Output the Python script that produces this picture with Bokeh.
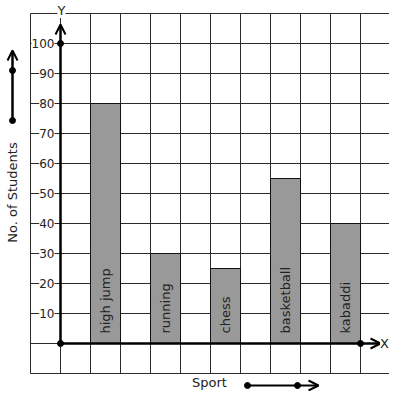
import math
from bokeh.plotting import figure, ColumnDataSource
from bokeh.models import Arrow, OpenHead, Label
from bokeh.core.properties import value
from bokeh.embed import file_html
from bokeh.resources import INLINE

# ---- data ----
sports = ["high jump", "running", "chess", "basketball", "kabaddi"]
students = [80, 30, 25, 55, 40]
bar_pos = [1.5, 3.5, 5.5, 7.5, 9.5]          # bar centres in grid-cell units
y_ticks = [10, 20, 30, 40, 50, 60, 70, 80, 90, 100]
y_tick_labels = ["10", "20", "30", "40", "50", "60", "70", "80", "90", "100"]
x_title = "Sport"
y_title = "No. of Students"

# ---- layout (pixel geometry of the picture) ----
W, H = 389, 391
OX, OY = 60, 343          # px of the origin
SX, SY = 30.0, 3.0        # px per x unit, px per student

def px2x(px):
    return (px - OX) / SX

def px2y(py):
    return (OY - py) / SY

p = figure(width=W, height=H, output_backend="svg", toolbar_location=None,
           x_range=(px2x(0), px2x(W)), y_range=(px2y(H), px2y(0)),
           min_border=0, outline_line_color=None)
p.axis.visible = False
p.grid.visible = False
p.background_fill_color = "white"
p.border_fill_color = "white"

FONT = "DejaVu Sans"
GRID_C = "#2b2b2b"
TXT_C = "#222222"

# ---- grid: 12 x 12 cells ----
gx0, gx1 = -1, 11
gy0, gy1 = -10, 110
vx = list(range(gx0, gx1 + 1))
p.segment(x0=vx, y0=[gy0] * len(vx), x1=vx, y1=[gy1] * len(vx),
          line_color=GRID_C, line_width=1)
hy = list(range(gy0, gy1 + 1, 10))
p.segment(x0=[gx0] * len(hy), y0=hy, x1=[gx1] * len(hy), y1=hy,
          line_color=GRID_C, line_width=1)

# ---- bars ----
src = ColumnDataSource(dict(x=bar_pos, top=students, name=sports,
                            ly=[px2y(333)] * len(sports)))
p.vbar(x="x", top="top", bottom=0, width=1, source=src,
       fill_color="#999999", line_color="#111111", line_width=1)
p.text(x="x", y="ly", text="name", source=src, angle=math.pi / 2,
       text_align="left", text_baseline="middle", text_font=value(FONT),
       text_font_size="13px", text_color=TXT_C)

# ---- axes with arrows ----
p.add_layout(Arrow(end=OpenHead(size=10, line_width=2, line_color="black"),
                   x_start=0, y_start=0, x_end=0, y_end=px2y(24),
                   line_width=2.5, line_color="black"))
p.add_layout(Arrow(end=OpenHead(size=10, line_width=2, line_color="black"),
                   x_start=0, y_start=0, x_end=px2x(380), y_end=0,
                   line_width=2.5, line_color="black"))
p.scatter(x=[0, 0, px2x(360)], y=[0, 100, 0], size=6, color="black")

# axis letters
p.add_layout(Label(x=px2x(61), y=px2y(10), text="Y", text_align="center",
                   text_baseline="middle", text_font=FONT, text_font_size="13px",
                   text_color=TXT_C, background_fill_color="white"))
p.add_layout(Label(x=px2x(384), y=0, text="X", text_align="center",
                   text_baseline="middle", text_font=FONT, text_font_size="13px",
                   text_color=TXT_C, background_fill_color="white"))

# ---- y tick labels ----
for yv, lab in zip(y_ticks, y_tick_labels):
    p.add_layout(Label(x=px2x(54), y=yv, text=lab, text_align="right",
                       text_baseline="middle", text_font=FONT, text_font_size="12px",
                       text_color=TXT_C, background_fill_color="white"))

# ---- titles ----
p.add_layout(Label(x=px2x(12), y=px2y(192), text=y_title, angle=math.pi / 2,
                   text_align="center", text_baseline="middle", text_font=FONT,
                   text_font_size="13px", text_color=TXT_C))
p.add_layout(Label(x=px2x(209), y=px2y(382), text=x_title, text_align="center",
                   text_baseline="middle", text_font=FONT, text_font_size="13px",
                   text_color=TXT_C))

# decorative direction arrows
p.add_layout(Arrow(end=OpenHead(size=10, line_width=2, line_color="black"),
                   x_start=px2x(12), y_start=px2y(120), x_end=px2x(12), y_end=px2y(50),
                   line_width=2.5, line_color="black"))
p.scatter(x=[px2x(12), px2x(12)], y=[px2y(120), px2y(70)], size=6, color="black")
p.add_layout(Arrow(end=OpenHead(size=10, line_width=2, line_color="black"),
                   x_start=px2x(247), y_start=px2y(385), x_end=px2x(318), y_end=px2y(385),
                   line_width=2, line_color="black"))
p.scatter(x=[px2x(247), px2x(297)], y=[px2y(385), px2y(385)], size=6, color="black")

open("out.html", "w").write(file_html(p, INLINE))
